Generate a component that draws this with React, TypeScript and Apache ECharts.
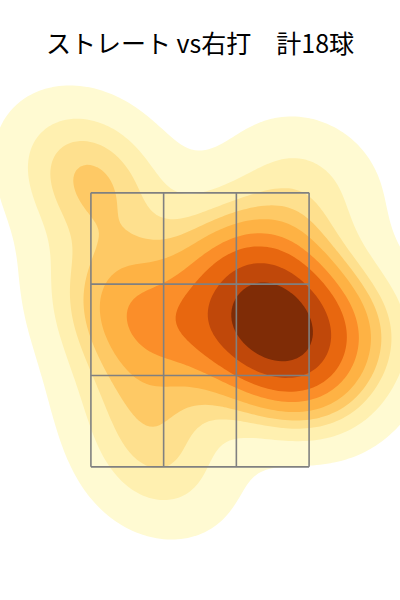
import React, { useEffect, useRef } from "react";
import * as echarts from "echarts";

// ---- data ----
const titleText = "ストレート vs右打　計18球";
// pitch locations (horizontal cm from plate centre, height cm)
const pitchX = [-33.0, -27.5, 28.9, -9.6, 15.1, 19.3, 24.8, 17.9, 9.6, 26.1, 22.0, 11.0, -19.3, -24.8, -11.0, -16.5, 42.6, 30.3];
const pitchY = [112.2, 104.5, 106.7, 77.1, 91.4, 85.9, 79.3, 75.0, 84.8, 72.8, 67.3, 71.7, 73.9, 84.8, 44.3, 58.5, 77.1, 65.1];
// iso-proportion levels of the density (seaborn style, thresh 0.05, 10 levels)
const isoProps = [0.05, 0.1556, 0.2611, 0.3667, 0.4722, 0.5778, 0.6833, 0.7889, 0.8944, 1.0];
const bandColors = ["#fffad2", "#fff0b0", "#fee08e", "#fec965", "#feb244", "#fb8e29", "#e8670f", "#c0480a", "#7f2c06"];
// strike zone (3x3) edges
const zoneX = [-30, -10, 10, 30];
const zoneY = [45, 65, 85, 105];
const xRange = [-55, 55];
const yRange = [20, 140];

type Pt = [number, number];

function computeContours(): Pt[][][] {
  const n = pitchX.length;
  const mx = pitchX.reduce((a, b) => a + b, 0) / n;
  const my = pitchY.reduce((a, b) => a + b, 0) / n;
  let sxx = 0, syy = 0, sxy = 0;
  for (let k = 0; k < n; k++) {
    const dx = pitchX[k] - mx, dy = pitchY[k] - my;
    sxx += dx * dx; syy += dy * dy; sxy += dx * dy;
  }
  sxx /= n - 1; syy /= n - 1; sxy /= n - 1;
  const f2 = Math.pow(n, -1 / 3); // scott factor squared, d=2
  const kxx = sxx * f2, kyy = syy * f2, kxy = sxy * f2;
  const det = kxx * kyy - kxy * kxy;
  const ixx = kyy / det, iyy = kxx / det, ixy = -kxy / det;
  const bwx = Math.sqrt(kxx), bwy = Math.sqrt(kyy);
  const x0 = Math.min(...pitchX) - 4 * bwx, x1 = Math.max(...pitchX) + 4 * bwx;
  const y0 = Math.min(...pitchY) - 4 * bwy, y1 = Math.max(...pitchY) + 4 * bwy;
  const NX = 200, NY = 200;
  const xs: number[] = [], ys: number[] = [];
  for (let i = 0; i < NX; i++) xs.push(x0 + ((x1 - x0) * i) / (NX - 1));
  for (let j = 0; j < NY; j++) ys.push(y0 + ((y1 - y0) * j) / (NY - 1));
  const V = new Float64Array(NX * NY);
  for (let j = 0; j < NY; j++) {
    for (let i = 0; i < NX; i++) {
      let s = 0;
      for (let k = 0; k < n; k++) {
        const dx = xs[i] - pitchX[k], dy = ys[j] - pitchY[k];
        s += Math.exp(-0.5 * (ixx * dx * dx + 2 * ixy * dx * dy + iyy * dy * dy));
      }
      V[j * NX + i] = s;
    }
  }
  // levels from iso proportions
  const sorted = Array.from(V).sort((a, b) => b - a);
  const total = sorted.reduce((a, b) => a + b, 0);
  const cum: number[] = [];
  let acc = 0;
  for (const v of sorted) { acc += v; cum.push(acc / total); }
  const levels = isoProps.map((p) => {
    const target = 1 - p;
    let lo = 0, hi = cum.length;
    while (lo < hi) { const mid = (lo + hi) >> 1; if (cum[mid] < target) lo = mid + 1; else hi = mid; }
    return sorted[Math.min(lo, sorted.length - 1)];
  });

  const result: Pt[][][] = [];
  for (let b = 0; b < bandColors.length; b++) {
    const L = levels[b];
    const adj = new Map<number, number[]>();
    const pts = new Map<number, Pt>();
    const val = (i: number, j: number) => V[j * NX + i];
    const hId = (i: number, j: number) => (j * NX + i) * 2;
    const vId = (i: number, j: number) => (j * NX + i) * 2 + 1;
    const hPt = (i: number, j: number): number => {
      const id = hId(i, j);
      if (!pts.has(id)) {
        const a = val(i, j), c = val(i + 1, j);
        const t = (L - a) / (c - a);
        pts.set(id, [xs[i] + t * (xs[i + 1] - xs[i]), ys[j]]);
      }
      return id;
    };
    const vPt = (i: number, j: number): number => {
      const id = vId(i, j);
      if (!pts.has(id)) {
        const a = val(i, j), c = val(i, j + 1);
        const t = (L - a) / (c - a);
        pts.set(id, [xs[i], ys[j] + t * (ys[j + 1] - ys[j])]);
      }
      return id;
    };
    const seg = (e1: number, e2: number) => {
      if (!adj.has(e1)) adj.set(e1, []);
      if (!adj.has(e2)) adj.set(e2, []);
      adj.get(e1)!.push(e2);
      adj.get(e2)!.push(e1);
    };
    for (let j = 0; j < NY - 1; j++) {
      for (let i = 0; i < NX - 1; i++) {
        const a = val(i, j), bb = val(i + 1, j), c = val(i + 1, j + 1), d = val(i, j + 1);
        const A = a >= L, B = bb >= L, C = c >= L, D = d >= L;
        const code = (A ? 1 : 0) | (B ? 2 : 0) | (C ? 4 : 0) | (D ? 8 : 0);
        if (code === 0 || code === 15) continue;
        const bottom = A !== B ? hPt(i, j) : -1;
        const right = B !== C ? vPt(i + 1, j) : -1;
        const top = D !== C ? hPt(i, j + 1) : -1;
        const left = A !== D ? vPt(i, j) : -1;
        const edges = [bottom, right, top, left].filter((e) => e >= 0);
        if (edges.length === 2) seg(edges[0], edges[1]);
        else {
          const center = (a + bb + c + d) / 4 >= L;
          if (code === 5) {
            if (center) { seg(bottom, right); seg(top, left); } else { seg(left, bottom); seg(right, top); }
          } else {
            if (center) { seg(left, bottom); seg(right, top); } else { seg(bottom, right); seg(top, left); }
          }
        }
      }
    }
    const visited = new Set<number>();
    const loops: Pt[][] = [];
    for (const start of adj.keys()) {
      if (visited.has(start)) continue;
      const loop: Pt[] = [];
      let cur = start, prev = -1;
      while (true) {
        visited.add(cur);
        loop.push(pts.get(cur)!);
        const nb = adj.get(cur)!;
        const next = nb[0] !== prev ? nb[0] : nb[1];
        prev = cur;
        cur = next;
        if (cur === undefined || cur === start || visited.has(cur)) break;
      }
      if (loop.length > 2) loops.push(loop);
    }
    result.push(loops);
  }
  return result;
}

export default function App() {
  const ref = useRef<HTMLDivElement>(null);
  useEffect(() => {
    if (!ref.current) return;
    const chart = echarts.init(ref.current, undefined, { renderer: "svg" });
    const contours = computeContours();
    const zoneSegs: number[][] = [];
    zoneX.forEach((x) => zoneSegs.push([x, zoneY[0], x, zoneY[zoneY.length - 1]]));
    zoneY.forEach((y) => zoneSegs.push([zoneX[0], y, zoneX[zoneX.length - 1], y]));

    chart.setOption({
      animation: false,
      backgroundColor: "#ffffff",
      title: {
        text: titleText,
        left: "center",
        top: 24,
        textStyle: { fontSize: 25, fontWeight: "normal", color: "#000", fontFamily: "'Noto Sans CJK JP', sans-serif" },
      },
      grid: { left: 0, right: 0, top: 33, height: 548 },
      xAxis: { type: "value", min: xRange[0], max: xRange[1], show: false, splitLine: { show: false } },
      yAxis: { type: "value", min: yRange[0], max: yRange[1], show: false, splitLine: { show: false } },
      series: [
        {
          type: "custom",
          name: "density",
          clip: true,
          silent: true,
          data: bandColors.map((_, k) => [0, 80, k]),
          encode: { x: 0, y: 1 },
          renderItem: (params: any, api: any) => {
            const k = params.dataIndex;
            return {
              type: "group",
              children: contours[k].map((loop) => ({
                type: "polygon",
                shape: { points: loop.map((p) => api.coord(p)) },
                style: { fill: bandColors[k] },
              })),
            };
          },
        },
        {
          type: "custom",
          name: "zone",
          clip: false,
          silent: true,
          data: zoneSegs,
          encode: { x: [0, 2], y: [1, 3] },
          renderItem: (params: any, api: any) => {
            const p1 = api.coord([api.value(0), api.value(1)]);
            const p2 = api.coord([api.value(2), api.value(3)]);
            return {
              type: "line",
              shape: { x1: p1[0], y1: p1[1], x2: p2[0], y2: p2[1] },
              style: { stroke: "#808080", lineWidth: 1.6 },
            };
          },
        },
      ],
    });
    return () => chart.dispose();
  }, []);
  return <div ref={ref} style={{ position: "fixed", left: 0, top: 0, width: 400, height: 600 }} />;
}
